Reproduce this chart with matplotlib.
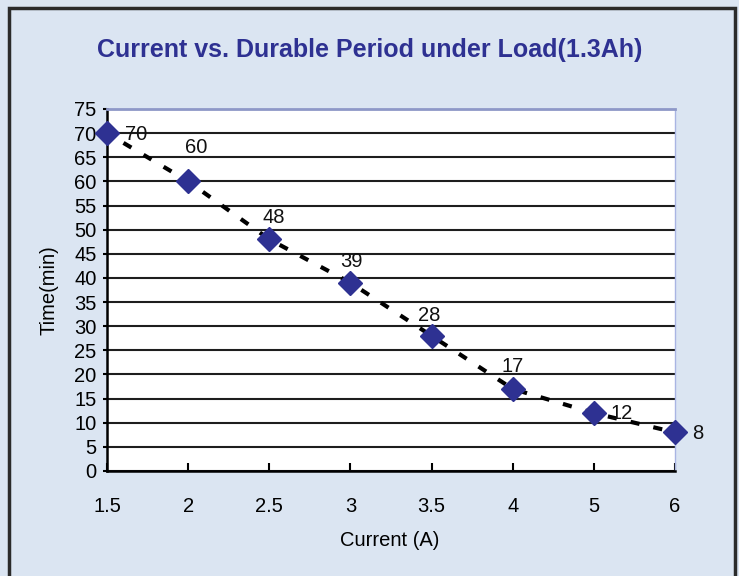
import matplotlib.pyplot as plt
from matplotlib.patches import Rectangle

plt.rcParams["font.family"] = ["Liberation Sans", "DejaVu Sans"]

currents = ["1.5", "2", "2.5", "3", "3.5", "4", "5", "6"]
minutes = [70, 60, 48, 39, 28, 17, 12, 8]
# label offsets in points (dx, dy) relative to each marker
label_offsets = [(13, -1), (6, 24.5), (3, 15.5), (1, 15), (-2, 15), (0, 16), (12, 0), (12, -1)]

bg = "#dbe5f2"
navy = "#2e3192"

fig = plt.figure(figsize=(7.39, 5.76), dpi=100, facecolor=bg)
fig.patches.append(Rectangle((0.012, -0.02), 0.982, 1.006, transform=fig.transFigure,
                             fill=False, edgecolor="#2b2b2b", linewidth=2.5))

ax = fig.add_axes([0.1448, 0.1823, 0.7686, 0.6285])
xs = list(range(len(currents)))

ax.plot(xs, minutes, color="black", linestyle=(1, (2.2, 3.4)), linewidth=3, zorder=3)
ax.plot(xs, minutes, linestyle="none", marker="D", markersize=12.5, color=navy,
        clip_on=False, zorder=4)

for x, y, (dx, dy) in zip(xs, minutes, label_offsets):
    ax.annotate(str(y), (x, y), xytext=(dx, dy), textcoords="offset points",
                ha="left" if dx > 8 else "center", va="center", fontsize=14.5, color="#111111")

ax.set_xlim(0, len(currents) - 1)
ax.set_ylim(0, 75)
ax.set_xticks(xs)
ax.set_xticklabels(currents)
ax.set_yticks(range(0, 80, 5))
ax.tick_params(axis="x", direction="in", length=6, width=1.5, pad=19, labelsize=14.5)
ax.tick_params(axis="y", direction="out", length=3, width=1.5, pad=4.5, labelsize=14.5)
ax.grid(axis="y", color="#1e1e1e", linewidth=1.5)
ax.set_axisbelow(True)

ax.spines["left"].set_linewidth(1.8)
ax.spines["bottom"].set_linewidth(1.8)
ax.spines["top"].set_color("#8e98c8")
ax.spines["top"].set_linewidth(2)
ax.spines["right"].set_color("#a9b5e3")
ax.spines["right"].set_linewidth(1)

fig.text(0.5, 0.913, "Current vs. Durable Period under Load(1.3Ah)", ha="center", va="center",
         fontsize=18, fontweight="bold", color=navy)
fig.text(0.527, 0.062, "Current (A)", ha="center", va="center", fontsize=14.5)
fig.text(0.066, 0.497, "Time(min)", ha="center", va="center", rotation=90, fontsize=14.5)

fig.savefig("out.png", dpi=100, facecolor=bg)
